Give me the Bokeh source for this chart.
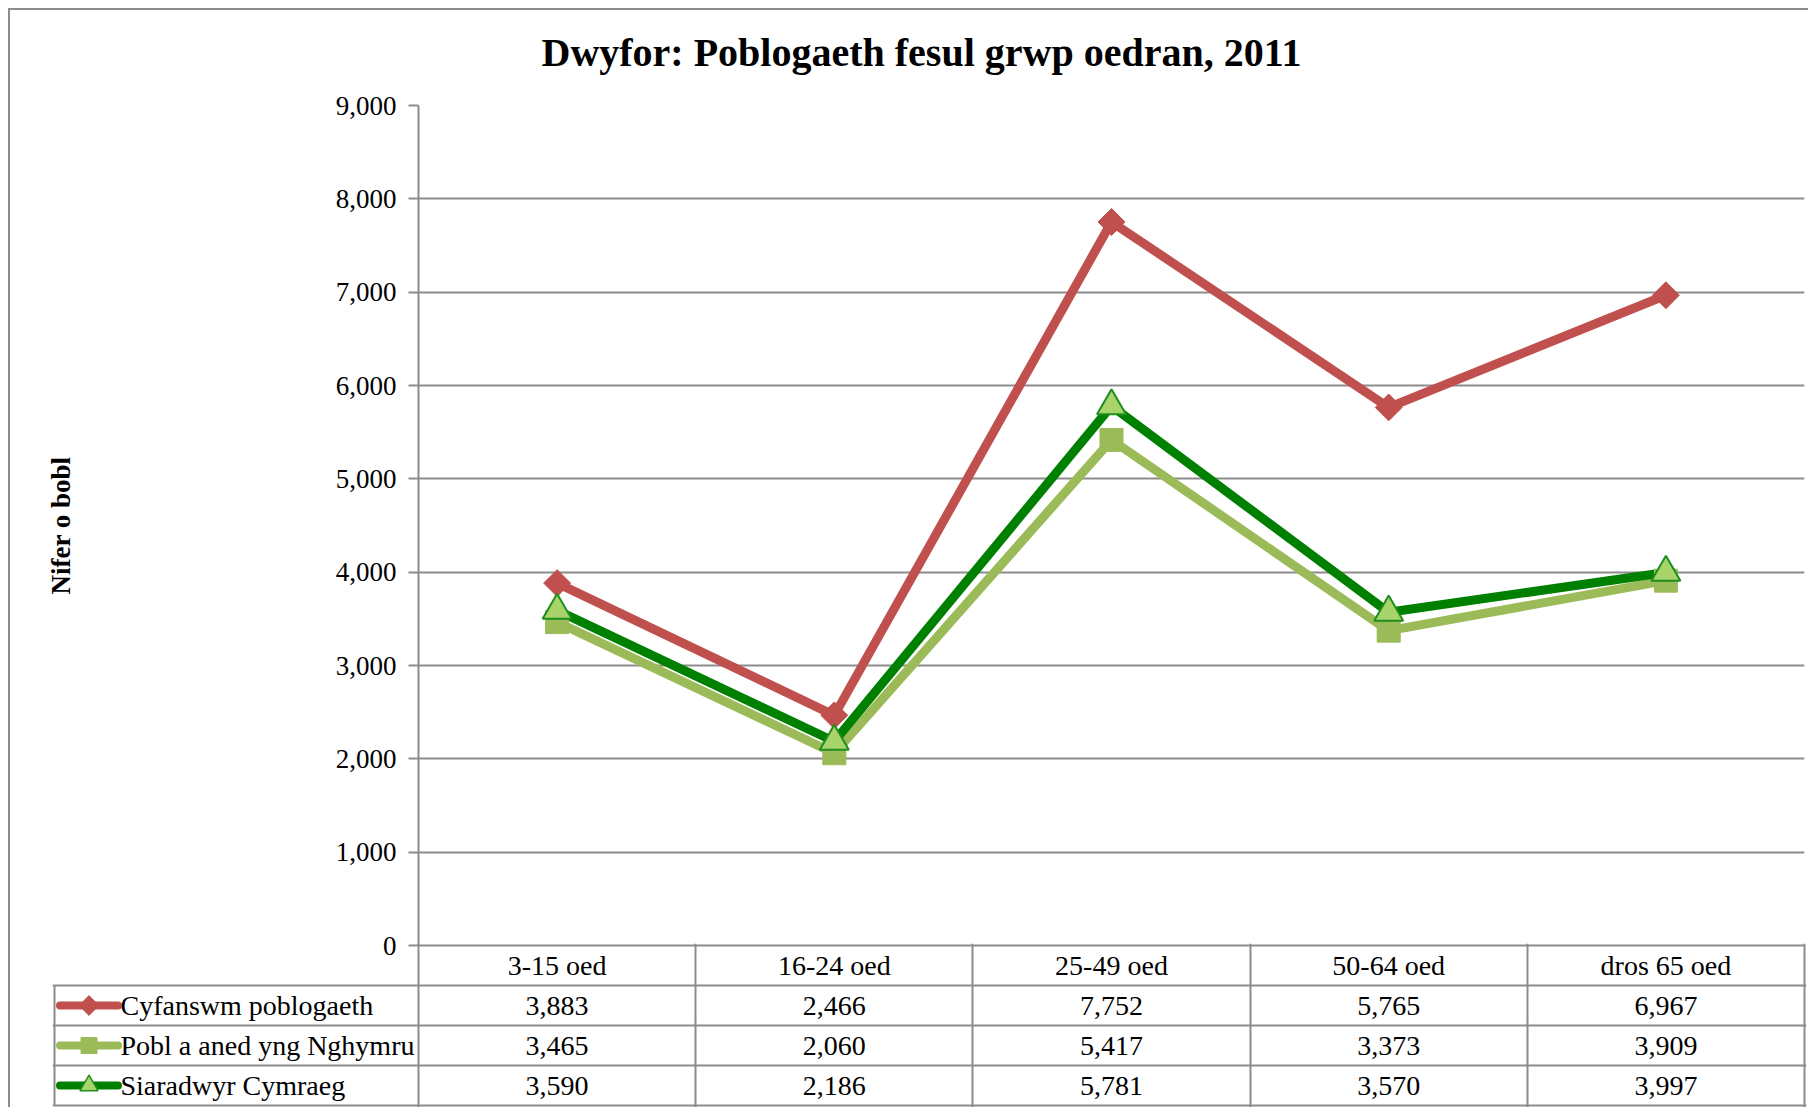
from bokeh.plotting import figure
from bokeh.models import Range1d, FactorRange, FixedTicker, NumeralTickFormatter
from bokeh.layouts import column
from bokeh.embed import file_html
from bokeh.resources import INLINE
from bokeh.core.properties import value

# ---------------- data ----------------
categories = ["3-15 oed", "16-24 oed", "25-49 oed", "50-64 oed", "dros 65 oed"]
series_names = ["Cyfanswm poblogaeth", "Pobl a aned yng Nghymru", "Siaradwyr Cymraeg"]
cyfanswm = [3883, 2466, 7752, 5765, 6967]
pobl_cymru = [3465, 2060, 5417, 3373, 3909]
siaradwyr = [3590, 2186, 5781, 3570, 3997]
y_ticks = [0, 1000, 2000, 3000, 4000, 5000, 6000, 7000, 8000, 9000]
title_text = "Dwyfor: Poblogaeth fesul grwp oedran, 2011"
y_label = "Nifer o bobl"

series_values = [cyfanswm, pobl_cymru, siaradwyr]

# ---------------- style ----------------
FONT = "Liberation Serif"
GRID = "#8c8c8c"
RED = "#C0504D"
LGREEN = "#9BBB59"
DGREEN = "#008000"
TRI_FILL = "#A9D46B"
TRI_LINE = "#1E8F1E"
colors = [RED, LGREEN, DGREEN]
W = 1798
CAT_PX = 277.2          # pixel width of one category column
LEG_W = 364 / CAT_PX    # legend column width in category units
PAD = 2 / CAT_PX
ROW_PX = 40
TOP_PX = 105
PLOT_H = 840
BOT_PX = 18

# ---------------- chart ----------------
p = figure(width=W, height=TOP_PX + PLOT_H + BOT_PX,
           x_range=FactorRange(*categories, range_padding=0),
           y_range=Range1d(y_ticks[0], y_ticks[-1]),
           output_backend="svg", toolbar_location=None,
           min_border_left=408, min_border_right=4,
           min_border_top=TOP_PX, min_border_bottom=BOT_PX)
p.outline_line_color = None
p.border_fill_color = None
p.background_fill_color = "white"

p.title.text = title_text
p.title.text_font = FONT
p.title.text_font_size = "40px"
p.title.text_font_style = "bold"
p.title.text_color = "black"
p.title.align = "left"
p.title.offset = 123
p.title.vertical_align = "top"
p.title.standoff = 57

p.xaxis.visible = False
p.xgrid.visible = False
p.ygrid.grid_line_color = GRID
p.ygrid.grid_line_width = 2
p.ygrid.ticker = FixedTicker(ticks=y_ticks)

ya = p.yaxis[0]
ya.ticker = FixedTicker(ticks=y_ticks)
ya.formatter = NumeralTickFormatter(format="0,0")
ya.major_label_text_font = FONT
ya.major_label_text_font_size = "27px"
ya.major_label_text_color = "black"
ya.major_tick_out = 10
ya.major_tick_in = 0
ya.minor_tick_line_color = None
ya.major_tick_line_color = GRID
ya.major_tick_line_width = 2
ya.axis_line_color = GRID
ya.axis_line_width = 2
ya.major_label_standoff = 12
ya.axis_label = y_label
ya.axis_label_text_font = FONT
ya.axis_label_text_font_size = "27px"
ya.axis_label_text_font_style = "bold"
ya.axis_label_text_color = "black"
ya.axis_label_standoff = 257

# series lines
for vals, col in zip(series_values, colors):
    p.line(categories, vals, line_color=col, line_width=9, line_join="round")

# markers
p.scatter(categories, cyfanswm, marker="square", angle=0.785398, size=19,
          fill_color=RED, line_color=RED, line_width=1)
p.scatter(categories, pobl_cymru, marker="square", size=23,
          fill_color=LGREEN, line_color=LGREEN, line_width=1)
p.scatter(categories, siaradwyr, marker="triangle", size=29,
          fill_color=TRI_FILL, line_color=TRI_LINE, line_width=2)

# ---------------- data table (header row + series rows) ----------------
n_cat = len(categories)
n_ser = len(series_names)
n_rows = n_ser + 1
t = figure(width=W, height=int(round((n_rows + 0.1) * ROW_PX)),
           x_range=Range1d(-LEG_W - PAD, n_cat + PAD),
           y_range=Range1d(n_rows + 0.05, -0.05),
           output_backend="svg", toolbar_location=None,
           min_border_left=42, min_border_right=2,
           min_border_top=0, min_border_bottom=0)
t.outline_line_color = None
t.border_fill_color = None
t.background_fill_color = None
t.axis.visible = False
t.xgrid.ticker = FixedTicker(ticks=list(range(n_cat + 1)))
t.ygrid.ticker = FixedTicker(ticks=list(range(1, n_rows + 1)))
for g in (t.xgrid[0], t.ygrid[0]):
    g.grid_line_color = GRID
    g.grid_line_width = 2
t.xgrid[0].bounds = (0, n_cat)

# header top line and legend column left border
t.segment(x0=[0, -LEG_W], y0=[0, 1], x1=[n_cat, -LEG_W], y1=[0, n_rows],
          line_color=GRID, line_width=2)

xc = [i + 0.5 for i in range(n_cat)]
t.text(x=xc, y=[0.5] * n_cat, text=categories,
       text_font=value(FONT), text_font_size="28px", text_color="black",
       text_align="center", text_baseline="middle")
for r, vals in enumerate(series_values):
    t.text(x=xc, y=[r + 1.5] * n_cat, text=[f"{v:,}" for v in vals],
           text_font=value(FONT), text_font_size="28px", text_color="black",
           text_align="center", text_baseline="middle")

# legend keys
leg_y = [r + 1.5 for r in range(n_ser)]
key_x = -LEG_W + 34.5 / CAT_PX
t.scatter([key_x] * n_ser, leg_y, marker="dash", size=58,
          line_color=colors, line_width=8, line_cap="round")
t.scatter([key_x], [leg_y[0]], marker="square", angle=0.785398, size=14,
          fill_color=RED, line_color=RED)
t.scatter([key_x], [leg_y[1]], marker="square", size=16,
          fill_color=LGREEN, line_color=LGREEN)
t.scatter([key_x], [leg_y[2]], marker="triangle", size=18,
          fill_color=TRI_FILL, line_color=TRI_LINE, line_width=1.5)
t.text(x=[-LEG_W + 66 / CAT_PX] * n_ser, y=leg_y, text=series_names,
       text_font=value(FONT), text_font_size="28px", text_color="black",
       text_align="left", text_baseline="middle")

LINE = "linear-gradient(#8c8c8c, #8c8c8c)"
top = column(p, spacing=0,
             styles={"margin-left": "8px", "padding-left": "2px",
                     "background": f"{LINE} 0 8px / 100% 2px no-repeat, "
                                   f"{LINE} 0 8px / 2px 100% no-repeat"})
bottom = column(t, spacing=0,
                styles={"margin-left": "8px",
                        "margin-top": f"-{BOT_PX + 2}px",
                        "border-left": "2px solid #8c8c8c"})

open("out.html", "w").write(file_html([top, bottom], INLINE))
